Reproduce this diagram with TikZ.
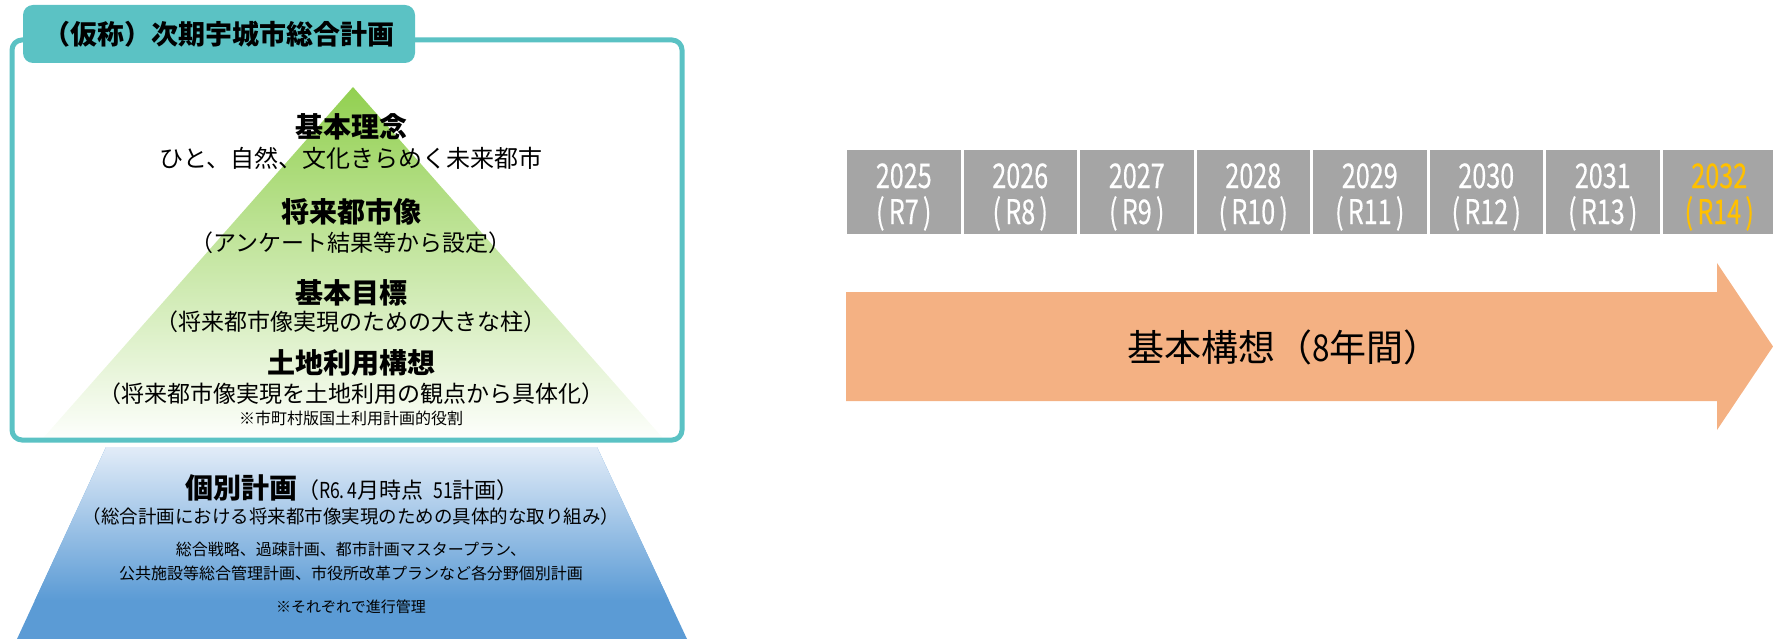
\documentclass[tikz,border=0pt]{standalone}
\usepackage{fontspec}
\setmainfont{Noto Sans CJK JP}
\newfontfamily\numfont[FakeBold=0.5]{Noto Sans CJK JP}
\definecolor{tealc}{RGB}{91,194,196}
\definecolor{greenT}{RGB}{146,208,80}
\definecolor{blueL}{RGB}{226,236,248}
\definecolor{blueD}{RGB}{91,155,213}
\definecolor{grayB}{RGB}{165,165,165}
\definecolor{orangeA}{RGB}{244,177,131}
\definecolor{goldT}{RGB}{255,192,0}
\newcommand\fsz[1]{\fontsize{#1}{#1}\selectfont}
\newcommand\cond[1]{\scalebox{0.8}[1]{#1}}
\newcommand\condn[1]{\scalebox{0.74}[1]{#1}}
\begin{document}
\begin{tikzpicture}[x=1pt,y=-1pt,
  tabbox/.style={fill=tealc,rounded corners=10pt,minimum width=392pt,minimum height=58pt,inner sep=0pt,font=\fsz{27}\bfseries},
  ttl/.style={inner sep=0pt,font=\fsz{28}\bfseries},
  sub/.style={inner sep=0pt,font=\fsz{23}},
  note/.style={inner sep=0pt,font=\fsz{16}},
  yearbox/.style={fill=grayB,minimum width=113.5pt,minimum height=84pt,inner sep=0pt},
  yeartext/.style={inner sep=0pt,text=white,align=center,font=\numfont\fsz{34}}]
\useasboundingbox (0,0) rectangle (1773,639);
% green triangle
\shade[top color=greenT,bottom color=white] (353,87) -- (669,445) -- (37,445) -- cycle;
% blue trapezoid
\begin{scope}
\clip (106,447) -- (597,447) -- (687,639) -- (17,639) -- cycle;
\fill[blueD] (0,447) rectangle (700,639);
\shade[top color=blueL,bottom color=blueD] (0,447) rectangle (700,600);
\end{scope}
% frame and tab
\draw[tealc,line width=5pt,rounded corners=10pt] (12,40) rectangle (682,440);
\node[tabbox] (tab) at (219,34) {（仮称）次期宇城市総合計画};
% pyramid texts
\node[ttl] (rinen) at (351,127) {基本理念};
\node[inner sep=0pt,font=\fsz{24}] (rinensub) at (351,158) {ひと、自然、文化きらめく未来都市};
\node[ttl] (zou) at (351,212) {将来都市像};
\node[sub] (zousub) at (351,243) {（アンケート結果等から設定）};
\node[ttl] (mokuhyo) at (351,293) {基本目標};
\node[sub] (mokuhyosub) at (351,322) {（将来都市像実現のための大きな柱）};
\node[ttl] (tochi) at (351,363) {土地利用構想};
\node[sub] (tochisub) at (351,394) {（将来都市像実現を土地利用の観点から具体化）};
\node[note] (tochinote) at (351,418) {※市町村版国土利用計画的役割};
\node[inner sep=0pt] (kobetsu) at (352,488) {{\fsz{28}\bfseries 個別計画}{\fsz{22}（\cond{R6.\,4}月時点\ \ \cond{51}計画）}};
\node[inner sep=0pt,font=\fsz{18.5}] (kobetsusub) at (351,516) {（総合計画における将来都市像実現のための具体的な取り組み）};
\node[note] (list1) at (351,549) {総合戦略、過疎計画、都市計画マスタープラン、};
\node[note] (list2) at (351,573) {公共施設等総合管理計画、市役所改革プランなど各分野個別計画};
\node[inner sep=0pt,font=\fsz{15}] (shinko) at (351,607) {※それぞれで進行管理};
% timeline
\foreach \i in {0,...,7}{
  \node[yearbox] (y\i) at ({847+116.5*\i+56.75},192) {};
}
\foreach \i/\yr/\r in {0/2025/R7,1/2026/R8,2/2027/R9,3/2028/R10,4/2029/R11,5/2030/R12,6/2031/R13}{
  \node[yeartext] (t\i) at ([yshift=-5pt]y\i.center) {\condn{\yr}\\[2pt]\condn{(\,\r\,)}};
}
\node[yeartext,text=goldT] (t7) at ([yshift=-5pt]y7.center) {\condn{2032}\\[2pt]\condn{(\,R14\,)}};
% arrow
\fill[orangeA] (846,292) -- (1717,292) -- (1717,263) -- (1773,346.5) -- (1717,430) -- (1717,401) -- (846,401) -- cycle;
\node[inner sep=0pt,font=\fsz{37}] (kousou) at (1284,347) {基本構想（\scalebox{0.85}[1]{8}年間）};
\end{tikzpicture}
\end{document}
